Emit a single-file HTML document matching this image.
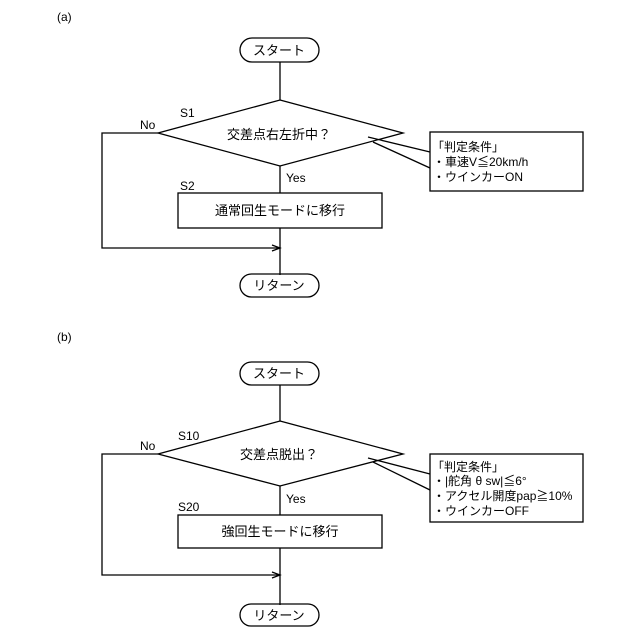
<!DOCTYPE html>
<html><head><meta charset="utf-8"><style>body{margin:0;background:#fff}svg{display:block}text{font-family:"Liberation Sans","Noto Sans CJK JP",sans-serif;fill:#000}</style></head><body>
<svg width="640" height="640" viewBox="0 0 640 640" xmlns="http://www.w3.org/2000/svg">
<g stroke="#000" stroke-width="1.3" fill="none">
<!-- (a) -->
<rect x="240" y="38" width="79" height="24" rx="12"/>
<line x1="280" y1="62" x2="280" y2="100"/>
<polygon points="280,100 403,133 280,166 158,133" fill="#fff"/>
<polyline points="368,137 430,152"/>
<polyline points="373,142 430,168"/>
<rect x="430" y="132" width="153" height="59"/>
<line x1="280" y1="166" x2="280" y2="193"/>
<rect x="178" y="193" width="204" height="35"/>
<line x1="280" y1="228" x2="280" y2="275"/>
<polyline points="158,133 102,133 102,248 280,248"/>
<polyline points="272,245 280,248 272,251"/>
<rect x="240" y="274" width="79" height="23" rx="11.5"/>
<!-- (b) -->
<rect x="240" y="362" width="79" height="23" rx="11.5"/>
<line x1="280" y1="385" x2="280" y2="421"/>
<polygon points="280,421 403,454 280,486 158,454" fill="#fff"/>
<polyline points="368,458 430,474"/>
<polyline points="373,462 430,490"/>
<rect x="430" y="454" width="153" height="68"/>
<line x1="280" y1="486" x2="280" y2="515"/>
<rect x="178" y="515" width="204" height="33"/>
<line x1="280" y1="548" x2="280" y2="605"/>
<polyline points="158,454 102,454 102,575 280,575"/>
<polyline points="272,572 280,575 272,578"/>
<rect x="240" y="604" width="79" height="22" rx="11"/>
</g>
<g font-size="12">
<text x="57" y="21">(a)</text>
<text x="57" y="341">(b)</text>
<text x="279" y="55" text-anchor="middle" font-size="13">スタート</text>
<text x="279" y="139" text-anchor="middle" font-size="13">交差点右左折中？</text>
<text x="180" y="117">S1</text>
<text x="140" y="129">No</text>
<text x="286" y="182">Yes</text>
<text x="180" y="190">S2</text>
<text x="280" y="215" text-anchor="middle" font-size="13">通常回生モードに移行</text>
<text x="279" y="290" text-anchor="middle" font-size="13">リターン</text>
<text x="432" y="151">「判定条件」</text>
<text x="433" y="166">・車速V≦20km/h</text>
<text x="433" y="181">・ウインカーON</text>
<text x="279" y="378" text-anchor="middle" font-size="13">スタート</text>
<text x="279" y="459" text-anchor="middle" font-size="13">交差点脱出？</text>
<text x="178" y="440">S10</text>
<text x="140" y="450">No</text>
<text x="286" y="503">Yes</text>
<text x="178" y="511">S20</text>
<text x="280" y="536" text-anchor="middle" font-size="13">強回生モードに移行</text>
<text x="279" y="620" text-anchor="middle" font-size="13">リターン</text>
<text x="432" y="471">「判定条件」</text>
<text x="433" y="485">・|舵角 θ sw|≦6°</text>
<text x="433" y="500">・アクセル開度pap≧10%</text>
<text x="433" y="515">・ウインカーOFF</text>
</g>
</svg>
</body></html>
